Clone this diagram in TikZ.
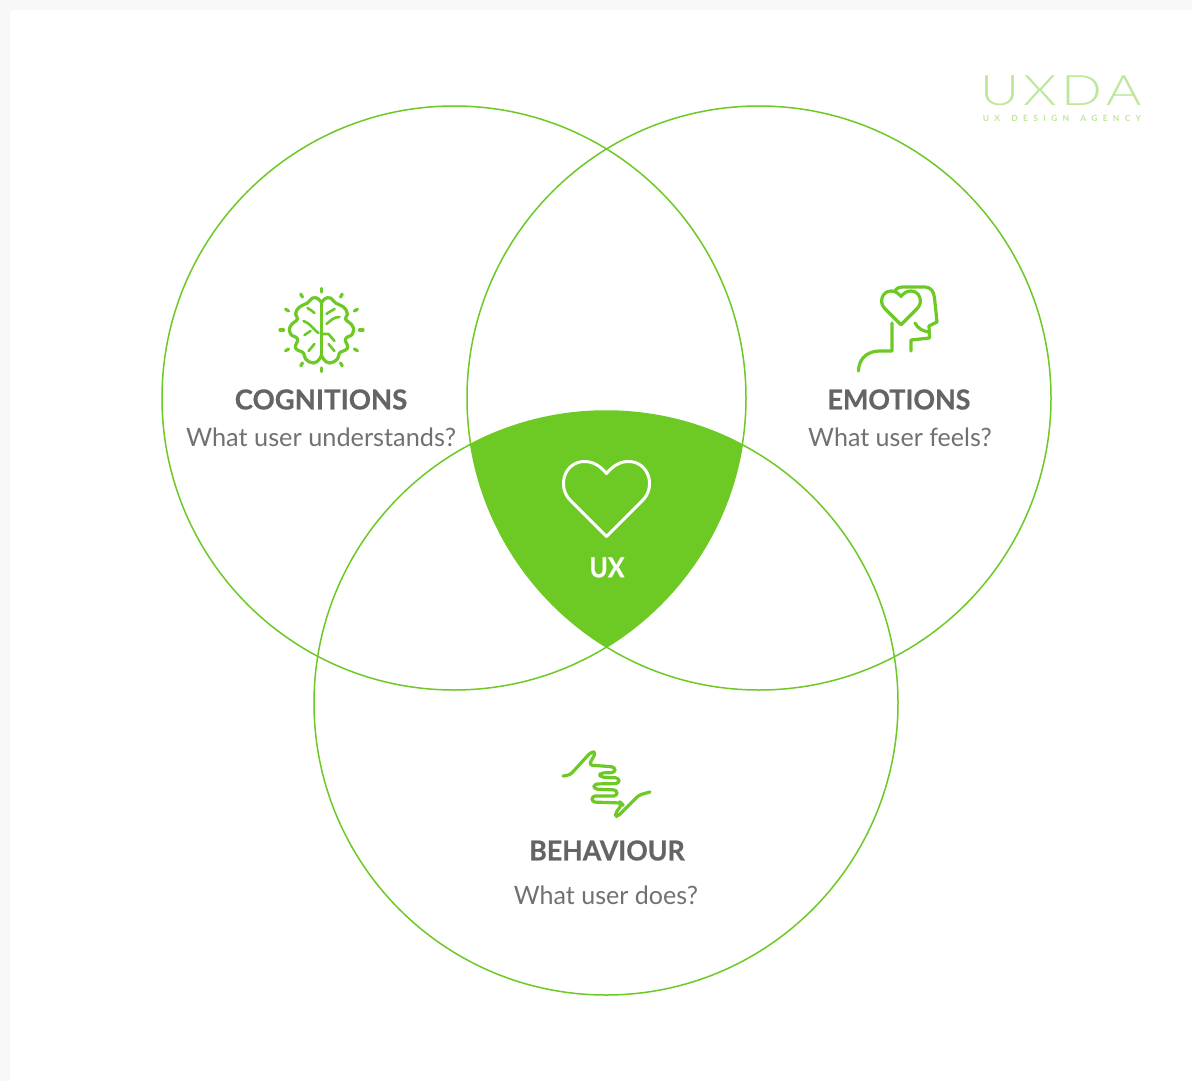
\documentclass[tikz,border=0pt]{standalone}
\usepackage{fontspec}
\setmainfont{Lato}
\newfontfamily\logofont{Lato}[UprightFont=* Light]
\definecolor{uxgreen}{HTML}{6DC924}
\definecolor{uxlight}{HTML}{BDE89C}
\definecolor{uxtitle}{HTML}{636564}
\definecolor{uxtext}{HTML}{707271}
\definecolor{uxpage}{HTML}{F8F8F8}
\newcommand{\heartpath}{(0,75) -- (-36,39) .. controls (-50,25) and (-42,0) .. (-22,0) .. controls (-12,0) and (-5,6) .. (0,12) .. controls (5,6) and (12,0) .. (22,0) .. controls (42,0) and (50,25) .. (36,39) -- cycle}
\begin{document}
\begin{tikzpicture}[x=1pt,y=-1pt,
  venn/.style={draw=uxgreen,line width=1.5pt},
  icon/.style={draw=uxgreen,line width=3.2pt,line cap=round,line join=round},
  titlenode/.style={font=\fontsize{27.5}{32}\selectfont\bfseries\addfontfeatures{FakeBold=0.6},text=uxtitle,inner sep=0pt},
  asknode/.style={font=\fontsize{25.3}{30}\selectfont,text=uxtext,inner sep=0pt}]
\useasboundingbox (0,0) rectangle (1192,1081);

%draw page
    \fill[uxpage] (0,0) rectangle (1192,1081);
    \fill[white,rounded corners=3pt] (10,10) rectangle (1200,1090);

%fill the common part
    \begin{scope}
      \clip (454,398) circle[radius=292];
      \clip (759,398) circle[radius=292];
      \fill[uxgreen] (606,703) circle[radius=292];
    \end{scope}

%draw circles
    \foreach \x/\y in {454/398, 759/398, 606/703}
      \draw[venn] (\x,\y) circle[radius=292];

%big heart
    \draw[white,line width=3pt,line join=round,shift={(606.5,461.5)}] \heartpath;

%brain rays
    \foreach \a in {0,30,...,330}
      \draw[icon,shift={(321.5,330)}] (\a:38) -- (\a:41.5);

%brain lobes
    \foreach \s in {1,-1}
      \draw[icon,shift={(321.5,330)},xscale=\s] plot[smooth,tension=0.8] coordinates
        {(0,-27) (3,-31) (9,-32) (14,-27) (22,-23) (26,-16) (24,-11) (31,-4) (31,4) (24,9) (26,18) (18,23) (16,29) (8,33) (2,29) (0,25)};
    \draw[icon,shift={(321.5,330)}] (0,-27) -- (0,25);

%brain details
    \begin{scope}[icon,shift={(321.5,330)},line width=2.6pt]
      \draw (5,-16) .. controls (8,-19) and (11,-19) .. (13,-21);
      \draw (5,-6) .. controls (10,-10) and (12,-13) .. (18,-13);
      \draw (0,4) -- (7,4) -- (13,11);
      \draw (7,14) -- (13,21);
      \draw (-14,-22) .. controls (-11,-20) and (-9,-19) .. (-7,-17);
      \draw (-18,-9) .. controls (-10,-6) and (-8,0) .. (-3,3);
      \draw (-11,1) -- (-17,5);
      \draw (-7,14) -- (-13,21);
    \end{scope}

%head
    \draw[icon] (858.5,371) .. controls (859,356) and (870,351) .. (880,351) -- (892,351) -- (892,323);
    \draw[icon] (895,291) .. controls (897,288) and (899,287) .. (902,287) -- (925,287)
      .. controls (931,287) and (934,292) .. (934.5,298) -- (937,322) -- (929,326) -- (929.5,338) -- (911,340) -- (911,351);
    \draw[icon] (915,323) .. controls (918,329) and (923,331) .. (929,332);
    \draw[icon,shift={(901,291)},scale=0.45] \heartpath;

%hands
    \draw[icon,rounded corners=3.2pt] (563,776) -- (570,775) -- (591,752) -- (596,752) -- (589,765)
      -- (615,767) -- (615,772.5) -- (600,773) -- (600,777) -- (619,778) -- (619,783.5) -- (594,784) -- (594,789)
      -- (617,790) -- (617,796) -- (592,796) -- (592,802) -- (621,803) -- (622,804) -- (615,814) -- (617,817) -- (639,795) -- (650,792);

%labels
    \node[titlenode] (cognitions) at (321,399.5) {COGNITIONS};
    \node[asknode] (cognitionsask) at (321,437) {What user understands?};
    \node[titlenode,xscale=0.975] (emotions) at (899,399.5) {EMOTIONS};
    \node[asknode,xscale=0.99] (emotionsask) at (900,437) {What user feels?};
    \node[titlenode,xscale=0.97] (behaviour) at (607,850.5) {BEHAVIOUR};
    \node[asknode,xscale=0.99] (behaviourask) at (606,895) {What user does?};
    \node[titlenode,text=white,xscale=0.9] (ux) at (607,567.5) {UX};

%logo
    \node[font=\fontsize{42}{46}\selectfont\logofont,text=uxlight,inner sep=0pt,xscale=1.28] (logo) at (1061,90.5) {\addfontfeatures{LetterSpace=8}UXDA};
    \node[font=\fontsize{8.5}{10}\selectfont\bfseries,text=uxlight,inner sep=0pt] (agency) at (1062,118.5) {\addfontfeatures{LetterSpace=62}UX\hspace{4pt} DESIGN\hspace{4pt} AGENCY};

    \end{tikzpicture}
\end{document}
